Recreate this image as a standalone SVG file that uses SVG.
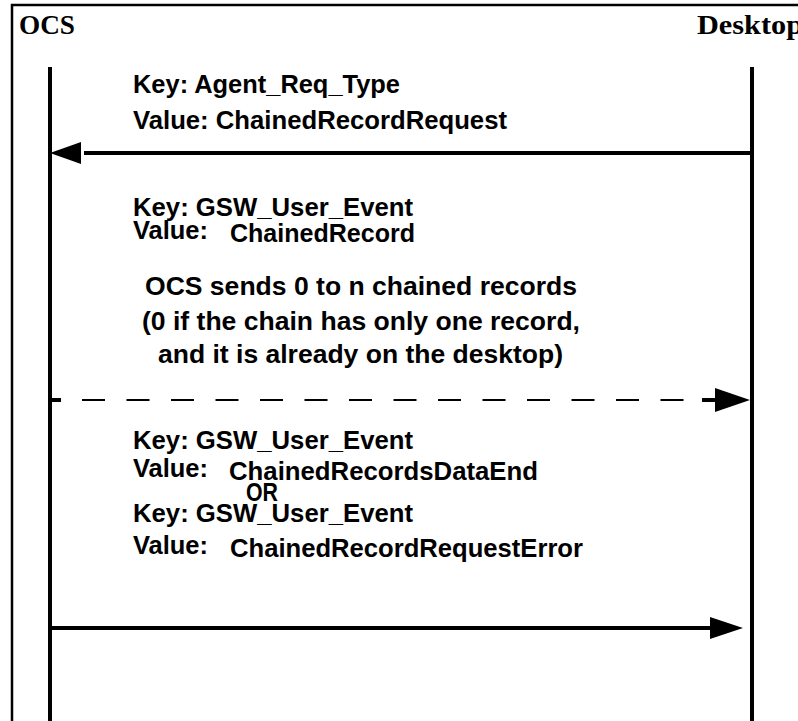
<svg xmlns="http://www.w3.org/2000/svg" width="798" height="721" viewBox="0 0 798 721">
<style>
.t{font-family:"Liberation Sans",Arial,sans-serif;font-weight:bold;font-size:26px;fill:#000}
.h{font-family:"Liberation Serif","Times New Roman",serif;font-weight:bold;font-size:28px;fill:#000}
.ln{stroke:#000;stroke-width:4;fill:none}
.ds{stroke:#000;stroke-width:1.8;fill:none;stroke-dasharray:23 21.5}
</style>
<rect width="798" height="721" fill="#fff"/>
<path d="M12,721 V5 H798" fill="none" stroke="#000" stroke-width="2.5"/>
<g id="ocs">
<text class="h" x="19" y="34" textLength="56" lengthAdjust="spacingAndGlyphs">OCS</text>
<line class="ln" x1="50" y1="67" x2="50" y2="721"/>
</g>
<g id="desktop">
<text class="h" x="697" y="34" textLength="106" lengthAdjust="spacingAndGlyphs">Desktop</text>
<line class="ln" x1="752" y1="67" x2="752" y2="721"/>
</g>
<g id="connectors">
<line class="ln" x1="752" y1="153" x2="84" y2="153"/>
<polygon points="50,153 81,142 81,164" fill="#000"/>
<line class="ln" x1="50" y1="400" x2="61" y2="400"/>
<line class="ds" x1="82" y1="400" x2="690" y2="400"/>
<line class="ln" x1="702" y1="400" x2="718" y2="400"/>
<polygon points="750,400 715,388 715,412" fill="#000"/>
<line class="ln" x1="50" y1="628" x2="712" y2="628"/>
<polygon points="743,628 710,617 710,639" fill="#000"/>
</g>
<g id="labels">
<text class="t" x="133" y="93" textLength="267" lengthAdjust="spacingAndGlyphs">Key: Agent_Req_Type</text>
<text class="t" x="133" y="129" textLength="374" lengthAdjust="spacingAndGlyphs">Value: ChainedRecordRequest</text>
<text class="t" x="133" y="216" textLength="280" lengthAdjust="spacingAndGlyphs">Key: GSW_User_Event</text>
<text class="t" x="133" y="239" textLength="75" lengthAdjust="spacingAndGlyphs">Value:</text>
<text class="t" x="230" y="242" textLength="185" lengthAdjust="spacingAndGlyphs">ChainedRecord</text>
<text class="t" x="145" y="295" textLength="432" lengthAdjust="spacingAndGlyphs">OCS sends 0 to n chained records</text>
<text class="t" x="142" y="330" textLength="438" lengthAdjust="spacingAndGlyphs">(0 if the chain has only one record,</text>
<text class="t" x="158" y="363" textLength="405" lengthAdjust="spacingAndGlyphs">and it is already on the desktop)</text>
<text class="t" x="133" y="449" textLength="280" lengthAdjust="spacingAndGlyphs">Key: GSW_User_Event</text>
<text class="t" x="133" y="477" textLength="75" lengthAdjust="spacingAndGlyphs">Value:</text>
<text class="t" x="229" y="480" textLength="309" lengthAdjust="spacingAndGlyphs">ChainedRecordsDataEnd</text>
<text class="t" x="246" y="501" textLength="32" lengthAdjust="spacingAndGlyphs">OR</text>
<text class="t" x="133" y="522" textLength="280" lengthAdjust="spacingAndGlyphs">Key: GSW_User_Event</text>
<text class="t" x="133" y="554" textLength="75" lengthAdjust="spacingAndGlyphs">Value:</text>
<text class="t" x="230" y="557" textLength="353" lengthAdjust="spacingAndGlyphs">ChainedRecordRequestError</text>
</g>
</svg>
